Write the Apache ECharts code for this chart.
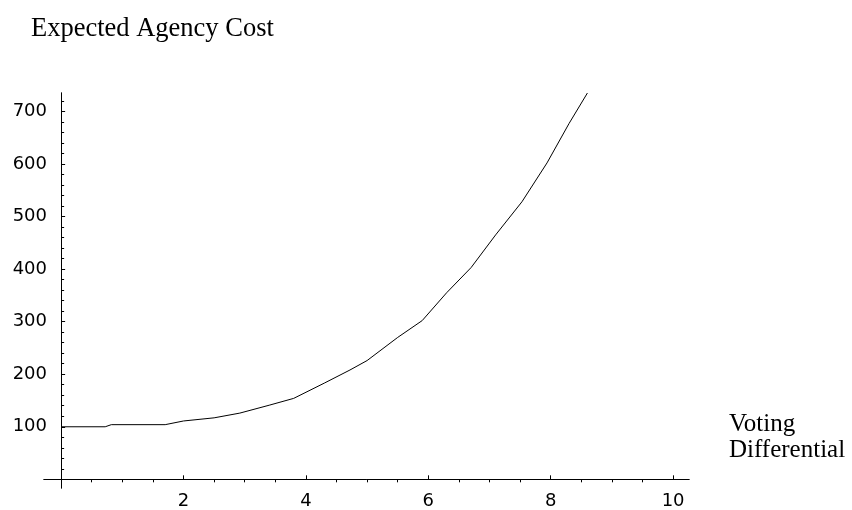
<!DOCTYPE html>
<html>
<head>
<meta charset="utf-8">
<title>Expected Agency Cost</title>
<script src="https://cdn.jsdelivr.net/npm/echarts@6/dist/echarts.min.js"></script>
<style>
	html, body { margin: 0; padding: 0; background: #fff; }
	#main { width: 852px; height: 510px; }
</style>
</head>
<body>
<div id="main"></div>
<script>
// voting differential / expected agency cost
var votingDiff = [0, 0.72, 0.82, 1.7, 2.0, 2.5, 2.92, 3.4, 3.8, 4.3, 4.72, 5.0, 5.5, 5.9, 6.3, 6.7, 7.1, 7.53, 7.94, 8.3, 8.6];
var agencyCost = [100, 100, 104, 104, 111, 117, 126, 141, 154, 183, 208, 226, 270, 302, 355, 403, 465, 528, 602, 677, 735];

// tick positions
var xMajor = [2, 4, 6, 8, 10];
var xMinor = [0.5, 1, 1.5, 2.5, 3, 3.5, 4.5, 5, 5.5, 6.5, 7, 7.5, 8.5, 9, 9.5];
var yMajor = [100, 200, 300, 400, 500, 600, 700];
var yMinor = [20, 40, 60, 80, 120, 140, 160, 180, 220, 240, 260, 280, 320, 340, 360, 380,
	420, 440, 460, 480, 520, 540, 560, 580, 620, 640, 660, 680, 720];

var chart = echarts.init(document.getElementById('main'));

var points = votingDiff.map(function (x, i) {
	return [x, agencyCost[i]];
});

var tickFont = {
	fontFamily: 'DejaVu Sans',
	fontSize: 18,
	color: '#000'
};

var lineStyle = { color: '#000', width: 1 };

chart.setOption({
	animation: false,
	backgroundColor: '#fff',
	title: [{
		text: 'Expected Agency Cost',
		left: 31,
		top: 15,
		padding: 0,
		textStyle: {
			fontFamily: 'Liberation Serif',
			fontWeight: 'normal',
			fontSize: 26.5,
			lineHeight: 28,
			color: '#000'
		}
	}, {
		text: 'Voting\nDifferential',
		left: 729,
		top: 411,
		padding: 0,
		textStyle: {
			fontFamily: 'Liberation Serif',
			fontWeight: 'normal',
			fontSize: 25,
			lineHeight: 26.6,
			color: '#000'
		}
	}],
	grid: {
		left: 44,
		right: 163,
		top: 93,
		bottom: 22,
		containLabel: false,
		outerBoundsMode: 'none'
	},
	xAxis: [{
		type: 'value',
		min: -0.28,
		max: 10.26,
		axisLine: { onZero: true, onZeroAxisIndex: 0, lineStyle: lineStyle },
		axisTick: { inside: true, length: 4, customValues: xMajor, lineStyle: lineStyle },
		// labels sit off the grid edge, not the zero line, so margins are short
		axisLabel: Object.assign({ customValues: xMajor, margin: 4 }, tickFont),
		splitLine: { show: false }
	}, {
		type: 'value',
		min: -0.28,
		max: 10.26,
		axisLine: { onZero: true, onZeroAxisIndex: 0, lineStyle: lineStyle },
		axisTick: { inside: true, length: 3, customValues: xMinor, lineStyle: lineStyle },
		axisLabel: { show: false },
		splitLine: { show: false }
	}],
	yAxis: [{
		type: 'value',
		position: 'left',
		min: -16.5,
		max: 735,
		axisLine: { onZero: true, onZeroAxisIndex: 0, lineStyle: lineStyle },
		axisTick: { inside: true, length: 4, customValues: yMajor, lineStyle: lineStyle },
		axisLabel: Object.assign({ customValues: yMajor, margin: -3 }, tickFont),
		splitLine: { show: false }
	}, {
		type: 'value',
		position: 'left',
		min: -16.5,
		max: 735,
		axisLine: { onZero: true, onZeroAxisIndex: 0, lineStyle: lineStyle },
		axisTick: { inside: true, length: 3, customValues: yMinor, lineStyle: lineStyle },
		axisLabel: { show: false },
		splitLine: { show: false }
	}],
	series: [{
		name: 'Expected Agency Cost',
		type: 'line',
		xAxisIndex: 0,
		yAxisIndex: 0,
		data: points,
		showSymbol: false,
		smooth: false,
		clip: true,
		lineStyle: { color: '#000', width: 1 }
	}]
});

window.onresize = function () {
	chart.resize();
};
</script>
</body>
</html>
